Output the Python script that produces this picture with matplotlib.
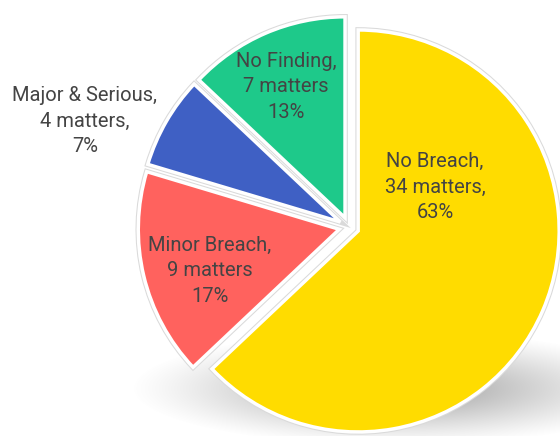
import numpy as np
import matplotlib
matplotlib.use('Agg')
import matplotlib.pyplot as plt

# Chart data
labels = ['No Breach', 'Minor Breach', 'Major & Serious', 'No Finding']
matters = [34, 9, 4, 7]
percents = ['63%', '17%', '7%', '13%']
colors = ['#FFDC00', '#FF625E', '#3F60C4', '#1EC98A']

plt.rcParams['font.family'] = ['Roboto', 'DejaVu Sans']

fig = plt.figure(figsize=(5.6, 4.36), dpi=100)
ax = fig.add_axes([0, 0, 1, 1])

# soft floor shadow under the pie
gx, gy = np.meshgrid(np.arange(560), np.arange(436))
r = np.sqrt(((gx - 395) / 230.0) ** 2 + ((gy - 388) / 50.0) ** 2)
alpha = 0.7 * np.clip(1.15 - r, 0, 1) ** 1.2
shadow = np.zeros((436, 560, 4))
shadow[..., :3] = 0.5
shadow[..., 3] = alpha
ax.imshow(shadow, extent=(0, 560, 0, 436), origin='upper', zorder=0)

explode = [10] * len(matters)
wedges, _ = ax.pie(matters, colors=colors, startangle=90, counterclock=False,
                   explode=explode, center=(349, 209), radius=201,
                   wedgeprops=dict(edgecolor='#dadada', linewidth=4.0))
for w in wedges:
    w.set_zorder(2)
wedges2, _ = ax.pie(matters, colors=colors, startangle=90, counterclock=False,
                    explode=explode, center=(349, 209), radius=201,
                    wedgeprops=dict(edgecolor='white', linewidth=2.5))
for w in wedges2:
    w.set_zorder(3)

label_text = [
    'No Breach,\n34 matters,\n63%',
    'Minor Breach,\n9 matters\n17%',
    'Major & Serious,\n4 matters,\n7%',
    'No Finding,\n7 matters\n13%',
]
label_pos = [(435, 249), (210, 165), (85, 315), (286, 349)]
for txt, (x, y) in zip(label_text, label_pos):
    ax.text(x, y, txt, ha='center', va='center', fontsize=14.5,
            color='#444444', linespacing=1.42, zorder=5)

ax.set_xlim(0, 560)
ax.set_ylim(0, 436)
ax.set_aspect('equal')
ax.axis('off')

fig.savefig('out.png', dpi=100)
